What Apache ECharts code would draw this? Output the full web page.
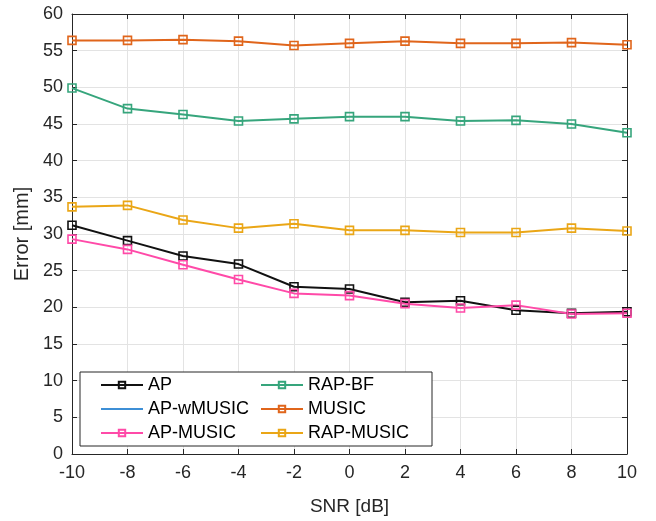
<!DOCTYPE html>
<html>
<head>
<meta charset="utf-8">
<script src="https://cdn.jsdelivr.net/npm/echarts@6/dist/echarts.min.js"></script>
<style>
  html, body { margin: 0; padding: 0; background: #fff; }
  #chart { width: 656px; height: 521px; }
</style>
</head>
<body>
<div id="chart"></div>
<script>
// SNR values on the x axis
const snr = [-10, -8, -6, -4, -2, 0, 2, 4, 6, 8, 10];

// Error [mm] per method
const apErr = [31.2, 29.1, 27.0, 25.9, 22.8, 22.5, 20.7, 20.9, 19.6, 19.2, 19.4];
const apWMusicErr = [];
const apMusicErr = [29.3, 27.9, 25.8, 23.8, 21.9, 21.6, 20.5, 19.9, 20.3, 19.1, 19.2];
const rapBfErr = [49.9, 47.1, 46.3, 45.4, 45.7, 46.0, 46.0, 45.4, 45.5, 45.0, 43.8];
const musicErr = [56.4, 56.4, 56.5, 56.3, 55.7, 56.0, 56.3, 56.0, 56.0, 56.1, 55.8];
const rapMusicErr = [33.7, 33.9, 31.9, 30.8, 31.4, 30.5, 30.5, 30.2, 30.2, 30.8, 30.4];

const xTicks = { min: -10, max: 10, step: 2 };
const yTicks = { min: 0, max: 60, step: 5 };

const fontFam = '"Liberation Sans", Arial, sans-serif';
const axisCol = '#262626';

function pairs(vals) {
  return vals.map((v, i) => [snr[i], v]);
}

function lineSeries(name, vals, color, marker) {
  return {
    name: name,
    type: 'line',
    data: pairs(vals),
    symbol: marker ? 'rect' : 'none',
    symbolSize: 8,
    showSymbol: !!marker,
    lineStyle: { color: color, width: 2 },
    itemStyle: { color: 'rgba(255,255,255,0)', borderColor: color, borderWidth: 1.6 },
    emphasis: { disabled: true },
    animation: false
  };
}

const chart = echarts.init(document.getElementById('chart'));

const baseAxis = {
  axisLine: { show: true, onZero: false, lineStyle: { color: axisCol, width: 1 } },
  axisTick: { show: true, inside: true, length: 5, lineStyle: { color: axisCol } },
  axisLabel: { color: axisCol, fontSize: 18, fontFamily: fontFam },
  splitLine: { show: true, lineStyle: { color: '#e3e3e3', width: 1 } }
};

const legendText = { color: '#000', fontSize: 18, fontFamily: fontFam, lineHeight: 18 };

chart.setOption({
  animation: false,
  grid: { left: 72, right: 29, top: 14, bottom: 66 },
  xAxis: [
    Object.assign({}, baseAxis, {
      type: 'value', min: xTicks.min, max: xTicks.max, interval: xTicks.step,
      name: 'SNR [dB]', nameLocation: 'middle', nameGap: 43,
      nameTextStyle: { color: axisCol, fontSize: 19, fontFamily: fontFam },
      axisLabel: { color: axisCol, fontSize: 18, fontFamily: fontFam, margin: 10 }
    }),
    Object.assign({}, baseAxis, {
      type: 'value', min: xTicks.min, max: xTicks.max, interval: xTicks.step,
      position: 'top', axisLabel: { show: false }, splitLine: { show: false }
    })
  ],
  yAxis: [
    Object.assign({}, baseAxis, {
      type: 'value', min: yTicks.min, max: yTicks.max, interval: yTicks.step,
      name: 'Error [mm]', nameLocation: 'middle', nameGap: 40,
      nameTextStyle: { color: axisCol, fontSize: 20, fontFamily: fontFam },
      axisLabel: { color: axisCol, fontSize: 18, fontFamily: fontFam, margin: 9 }
    }),
    Object.assign({}, baseAxis, {
      type: 'value', min: yTicks.min, max: yTicks.max, interval: yTicks.step,
      position: 'right', axisLabel: { show: false }, splitLine: { show: false }
    })
  ],
  graphic: [{
    type: 'rect', z: 3,
    shape: { x: 80, y: 372, width: 352, height: 74 },
    style: { fill: '#fff', stroke: axisCol, lineWidth: 1 }
  }],
  legend: [
    {
      orient: 'vertical', left: 95, top: 371, itemWidth: 42, itemHeight: 8, itemGap: 6,
      data: ['AP', { name: 'AP-wMUSIC', itemStyle: { opacity: 0 } }, 'AP-MUSIC'],
      textStyle: legendText, z: 5
    },
    {
      orient: 'vertical', left: 255, top: 371, itemWidth: 42, itemHeight: 8, itemGap: 6,
      data: ['RAP-BF', 'MUSIC', 'RAP-MUSIC'], textStyle: legendText, z: 5
    }
  ],
  series: [
    lineSeries('AP', apErr, '#111111', true),
    lineSeries('AP-wMUSIC', apWMusicErr, '#3d8fd6', false),
    lineSeries('AP-MUSIC', apMusicErr, '#ff4aa8', true),
    lineSeries('RAP-BF', rapBfErr, '#36a57c', true),
    lineSeries('MUSIC', musicErr, '#e0651b', true),
    lineSeries('RAP-MUSIC', rapMusicErr, '#eaa616', true)
  ]
});
</script>
</body>
</html>
